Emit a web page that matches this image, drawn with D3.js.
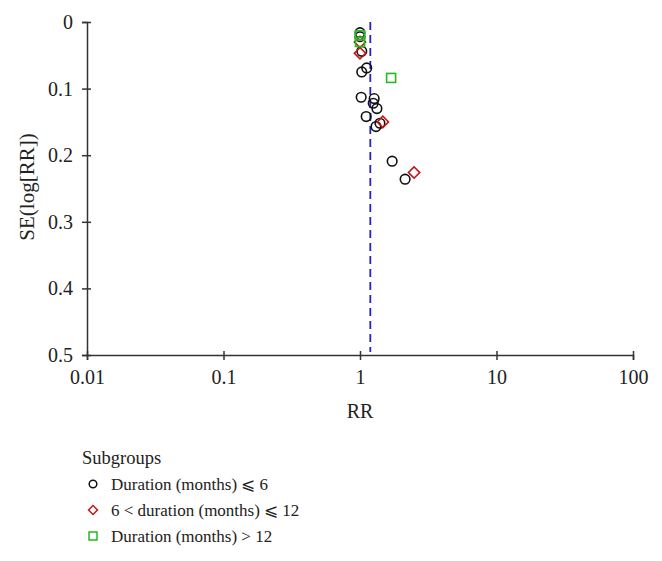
<!DOCTYPE html>
<html><head><meta charset="utf-8">
<script src="https://cdn.jsdelivr.net/npm/d3@7"></script>
<style>body{margin:0;background:#fff}svg{display:block}text{font-family:"Liberation Serif","DejaVu Serif",serif;fill:#222}</style>
</head><body><svg id="c" width="662" height="561"></svg>
<script>
// Data
const xTicks = [0.01, 0.1, 1, 10, 100];
const xTickLabels = ["0.01", "0.1", "1", "10", "100"];
const yTicks = [0, 0.1, 0.2, 0.3, 0.4, 0.5];
const yTickLabels = ["0", "0.1", "0.2", "0.3", "0.4", "0.5"];
const pooledRR = 1.19;
// group 1: duration <= 6
const g1RR = [1.0, 1.0, 1.03, 1.12, 1.03, 1.02, 1.27, 1.25, 1.33, 1.11, 1.31, 1.40, 1.72, 2.14];
const g1SE = [0.016, 0.022, 0.044, 0.069, 0.075, 0.113, 0.115, 0.122, 0.130, 0.142, 0.157, 0.152, 0.209, 0.236];
// group 2: 6 < duration <= 12
const g2RR = [1.0, 1.0, 1.47, 2.49];
const g2SE = [0.030, 0.047, 0.150, 0.226];
// group 3: duration > 12
const g3RR = [1.0, 1.0, 1.69];
const g3SE = [0.020, 0.030, 0.084];
const legendTitle = "Subgroups";
const legendLabels = ["Duration (months) \u2A7D 6", "6 < duration (months) \u2A7D 12", "Duration (months) > 12"];

const svg = d3.select("#c");
const x = d3.scaleLog().domain([0.01, 100]).range([87, 633]);
const y = d3.scaleLinear().domain([0, 0.5]).range([22, 355]);
const axisCol = "#333";

// y axis
const yAx = svg.append("g").attr("transform", "translate(87,0)")
  .call(d3.axisLeft(y).tickValues(yTicks).tickFormat((d,i)=>yTickLabels[i]).tickSize(5).tickPadding(9));
yAx.select(".domain").attr("stroke", axisCol).attr("stroke-width", 1.5);
yAx.selectAll(".tick line").attr("stroke", axisCol).attr("stroke-width", 1.5).attr("x2", 4).attr("x1", -5);
yAx.selectAll(".tick text").attr("font-size", 20).attr("font-family", "Liberation Serif").attr("fill", "#222");

// x axis
const xAx = svg.append("g").attr("transform", "translate(0,355)")
  .call(d3.axisBottom(x).tickValues(xTicks).tickFormat((d,i)=>xTickLabels[i]).tickSize(5).tickPadding(10));
xAx.select(".domain").attr("stroke", axisCol).attr("stroke-width", 1.5);
xAx.selectAll(".tick line").attr("stroke", axisCol).attr("stroke-width", 1.5).attr("y1", -4).attr("y2", 5);
xAx.selectAll(".tick text").attr("font-size", 20).attr("font-family", "Liberation Serif").attr("fill", "#222");

// pooled estimate dashed line
svg.append("line").attr("x1", x(pooledRR)).attr("x2", x(pooledRR)).attr("y1", y(0)).attr("y2", y(0.5) - 3)
  .attr("stroke", "#2222cc").attr("stroke-width", 1.8).attr("stroke-dasharray", "8,5");

// axis titles
svg.append("text").attr("x", x(1)).attr("y", 418).attr("text-anchor", "middle").attr("font-size", 20).text("RR");
svg.append("text").attr("transform", "translate(34,187) rotate(-90)").attr("text-anchor", "middle").attr("font-size", 21).text("SE(log[RR])");

// markers
const g1 = g1RR.map((r,i)=>({r, s:g1SE[i]}));
const g2 = g2RR.map((r,i)=>({r, s:g2SE[i]}));
const g3 = g3RR.map((r,i)=>({r, s:g3SE[i]}));
svg.append("g").selectAll("circle").data(g1).join("circle")
  .attr("cx", d=>x(d.r)).attr("cy", d=>y(d.s)).attr("r", 4.8)
  .attr("fill", "none").attr("stroke", "#111").attr("stroke-width", 1.6);
svg.append("g").selectAll("path").data(g2).join("path")
  .attr("d", d3.symbol(d3.symbolSquare, 64)())
  .attr("transform", d=>`translate(${x(d.r)},${y(d.s)}) rotate(45)`)
  .attr("fill", "none").attr("stroke", "#c01818").attr("stroke-width", 1.6);
svg.append("g").selectAll("rect").data(g3).join("rect")
  .attr("x", d=>x(d.r)-4.5).attr("y", d=>y(d.s)-4.5).attr("width", 9).attr("height", 9)
  .attr("fill", "none").attr("stroke", "#22bb22").attr("stroke-width", 1.6);

// legend
svg.append("text").attr("x", 82).attr("y", 464).attr("font-size", 18.5).text(legendTitle);
const ly = [484, 510, 536];
svg.append("circle").attr("cx", 93).attr("cy", ly[0]).attr("r", 3.8).attr("fill", "none").attr("stroke", "#111").attr("stroke-width", 1.5);
svg.append("path").attr("d", d3.symbol(d3.symbolSquare, 40)()).attr("transform", `translate(93,${ly[1]}) rotate(45)`)
  .attr("fill", "none").attr("stroke", "#c01818").attr("stroke-width", 1.5);
svg.append("rect").attr("x", 89).attr("y", ly[2]-4).attr("width", 8).attr("height", 8).attr("fill", "none").attr("stroke", "#22bb22").attr("stroke-width", 1.5);
legendLabels.forEach((t,i)=>{
  svg.append("text").attr("x", 111).attr("y", ly[i]+6).attr("font-size", 17).text(t);
});
</script></body></html>
